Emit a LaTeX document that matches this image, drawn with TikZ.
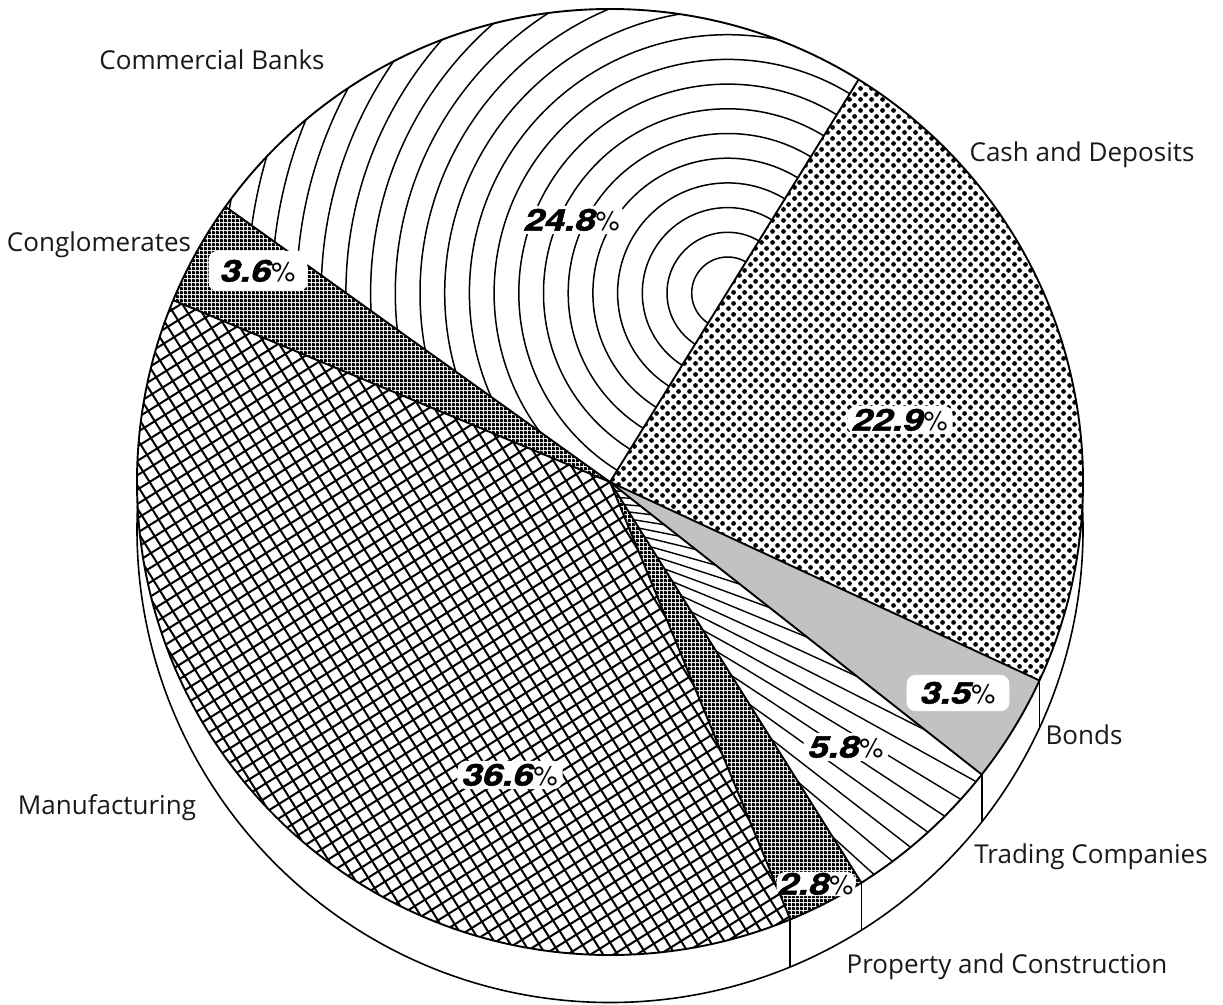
\documentclass[tikz,border=0pt]{standalone}
\usepackage{fontspec}
\usepackage{graphicx}
\setmainfont{Open Sans}
\newfontfamily\pctfont[BoldItalicFeatures={FakeBold=1.6}]{TeX Gyre Heros}
\usetikzlibrary{patterns,calc}

\pgfdeclarepatternformonly{cashdots}{\pgfpointorigin}{\pgfpoint{11pt}{11pt}}{\pgfpoint{11pt}{11pt}}{%
  \pgfpathcircle{\pgfpoint{2.75pt}{2.75pt}}{2.6pt}%
  \pgfpathcircle{\pgfpoint{8.25pt}{8.25pt}}{2.6pt}%
  \pgfusepath{fill}}
\pgfdeclarepatternformonly{finehatch}{\pgfpointorigin}{\pgfpoint{3.6pt}{3.6pt}}{\pgfpoint{3.6pt}{3.6pt}}{%
  \pgfpathrectangle{\pgfpointorigin}{\pgfpoint{3.6pt}{2.5pt}}%
  \pgfpathrectangle{\pgfpointorigin}{\pgfpoint{2.5pt}{3.6pt}}%
  \pgfusepath{fill}}

\newcommand{\slicepath}[2]{(C) -- ++(#1:473) arc[start angle=#1, end angle=#2, radius=473] -- cycle}
\newcommand{\pct}[1]{\scalebox{1.22}[1]{\pctfont\bfseries\itshape #1}{\pctfont\fontsize{27}{30}\selectfont\%}}

\tikzset{
  edge/.style={line width=1.9pt, line join=round},
  rimline/.style={line width=1.6pt},
  arcline/.style={line width=1.5pt},
  fanline/.style={line width=1.4pt},
  gridline/.style={line width=2pt},
  catlabel/.style={font=\fontsize{26}{30}\selectfont, text=black!90, inner sep=0pt},
  pctbox/.style={fill=white, rounded corners=9pt, inner xsep=5pt, inner ysep=3pt, font=\fontsize{30}{33}\selectfont},
}

\begin{document}
\begin{tikzpicture}[x=1pt,y=-1pt]
\fill[white] (0,0) rectangle (1223,1004);
\useasboundingbox (0,0) rectangle (1223,1004);
\coordinate (C) at (610,482);
\coordinate (R) at (610,529.5);
\coordinate (O) at (727.7,293);
\coordinate (F) at (450,490);

% rim
\draw[rimline, fill=white] (R) circle[radius=473];
\foreach \a in {24.8,38.2,57.9,67.6} \draw[rimline] ($(C)+(\a:473)$) -- ++(0,47.5);

% Cash and Deposits
\fill[white] \slicepath{-58.3}{24.8};
\fill[pattern=cashdots] \slicepath{-58.3}{24.8};
% Bonds
\fill[black!24] \slicepath{24.8}{38.2};
% Trading Companies
\fill[white] \slicepath{38.2}{57.9};
\begin{scope}
  \clip \slicepath{38.2}{57.9};
  \foreach \a in {-4,-1.8,...,46} \draw[fanline] (F) -- ++(\a:700);
\end{scope}
% Property and Construction
\fill[white] \slicepath{57.9}{67.6};
\fill[pattern=finehatch] \slicepath{57.9}{67.6};
% Manufacturing
\fill[white] \slicepath{67.6}{202.6};
\begin{scope}
  \clip \slicepath{67.6}{202.6};
  \begin{scope}[shift={(C)}, rotate=32]
    \foreach \k in {-46,...,46} {
      \draw[gridline] (\k*12.2,-580) -- (\k*12.2,580);
      \draw[gridline] (-580,\k*12.2) -- (580,\k*12.2);
    }
  \end{scope}
\end{scope}
% Conglomerates
\fill[white] \slicepath{202.6}{215.6};
\fill[pattern=finehatch] \slicepath{202.6}{215.6};
% Commercial Banks
\fill[white] \slicepath{215.6}{301.7};
\begin{scope}
  \clip \slicepath{215.6}{301.7};
  \foreach \k in {0,...,19} \draw[arcline] (O) circle[radius={36+24.7*\k}];
\end{scope}

% slice edges and outline
\foreach \a in {-58.3,24.8,38.2,57.9,67.6,202.6,215.6} \draw[edge] (C) -- ++(\a:473);
\draw[edge] (C) circle[radius=473];

% percentage labels
\node[pctbox] (p248) at (572,220) {\pct{24.8}};
\node[pctbox] (p229) at (900,420) {\pct{22.9}};
\node[pctbox, inner xsep=12pt, inner ysep=9pt] (p36) at (258,271) {\pct{3.6}};
\node[pctbox, inner xsep=14pt, inner ysep=7pt] (p35) at (958,693) {\pct{3.5}};
\node[pctbox] (p58) at (846,747) {\pct{5.8}};
\node[pctbox] (p366) at (510,775) {\pct{36.6}};
\node[pctbox, inner xsep=2pt, inner ysep=1pt] (p28) at (816,884) {\pct{2.8}};

% category labels
\node[catlabel] (lcb) at (212,60) {Commercial Banks};
\node[catlabel] (lcash) at (1082,155) {Cash and Deposits};
\node[catlabel] (lcong) at (99,245) {Conglomerates};
\node[catlabel] (lman) at (107,808) {Manufacturing};
\node[catlabel] (lbonds) at (1084,735) {Bonds};
\node[catlabel] (ltrade) at (1091,857) {Trading Companies};
\node[catlabel] (lprop) at (1007,967) {Property and Construction};
\end{tikzpicture}
\end{document}
